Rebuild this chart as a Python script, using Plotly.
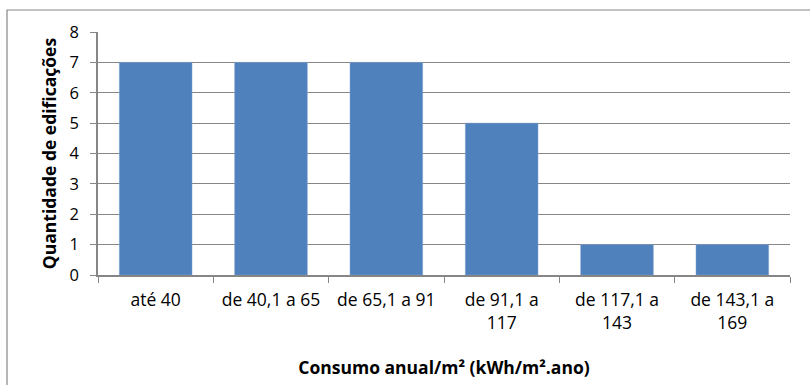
import plotly.graph_objects as go

# Faixas de consumo e quantidade de edificações
faixas = ["até 40", "de 40,1 a 65", "de 65,1 a 91", "de 91,1 a<br>117",
          "de 117,1 a<br>143", "de 143,1 a<br>169"]
quantidades = [7, 7, 7, 5, 1, 1]

cinza = "#868686"
fonte = "'Open Sans', sans-serif"

fig = go.Figure()
fig.add_trace(go.Bar(
    x=faixas,
    y=quantidades,
    width=0.63,
    marker=dict(color="#4F81BD", line=dict(color="#7FA3D0", width=0.5)),
))

fig.update_layout(
    width=810, height=385,
    margin=dict(l=98, r=20, t=32, b=110),
    paper_bgcolor="white",
    plot_bgcolor="white",
    showlegend=False,
    font=dict(family=fonte, size=15, color="black"),
    xaxis=dict(
        title=dict(text="<b>Consumo anual/m² (kWh/m².ano)</b>", font=dict(size=17.5), standoff=29),
        showline=True, linecolor=cinza, linewidth=1.5,
        ticks="outside", tickson="boundaries", ticklen=6, tickcolor=cinza,
        ticklabelstandoff=8,
        showgrid=False, automargin=False,
        tickfont=dict(size=17.5),
    ),
    yaxis=dict(
        title=dict(text="<b>Quantidade de edificações</b>", font=dict(size=17.5), standoff=8),
        range=[0, 8], dtick=1,
        showline=True, linecolor=cinza, linewidth=1.5,
        ticks="outside", ticklen=6, tickcolor=cinza,
        ticklabelstandoff=8,
        showgrid=True, gridcolor=cinza, gridwidth=1.2,
        zeroline=False, automargin=False,
        tickfont=dict(size=16.5),
    ),
    shapes=[dict(
        type="rect", xref="paper", yref="paper",
        x0=-0.1315, x1=1.05, y0=-0.6, y1=1.0905,
        line=dict(color=cinza, width=1.2), layer="below",
    )],
)

fig.write_html("out.html", config={"displayModeBar": False},
               post_script="document.body.style.margin='0';")
